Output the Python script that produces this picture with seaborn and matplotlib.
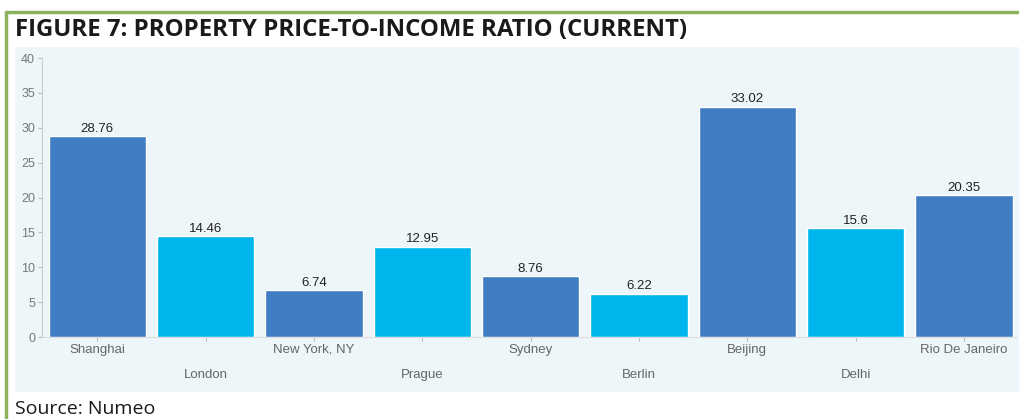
import matplotlib
matplotlib.use('Agg')
import matplotlib.pyplot as plt
import seaborn as sns
import pandas as pd
from matplotlib.patches import Rectangle
from matplotlib.lines import Line2D

# data
cities = ['Shanghai', 'London', 'New York, NY', 'Prague', 'Sydney',
          'Berlin', 'Beijing', 'Delhi', 'Rio De Janeiro']
ratios = [28.76, 14.46, 6.74, 12.95, 8.76, 6.22, 33.02, 15.6, 20.35]
value_labels = ['28.76', '14.46', '6.74', '12.95', '8.76', '6.22', '33.02', '15.6', '20.35']
y_ticks = [0, 5, 10, 15, 20, 25, 30, 35, 40]

dark_blue = '#3f7ec2'
light_blue = '#00b5ec'
bar_colors = [dark_blue if i % 2 == 0 else light_blue for i in range(len(cities))]

df = pd.DataFrame({'City': cities, 'Ratio': ratios})

sns.set_style('white')
plt.rcParams['font.family'] = ['Liberation Sans', 'DejaVu Sans']

W, H = 1019, 419
fig = plt.figure(figsize=(W / 100, H / 100), dpi=100)
fig.patch.set_facecolor('white')

# panel background and green frame
fig.patches.append(Rectangle((15 / W, 1 - 392 / H), 1 - 15 / W, (392 - 47) / H,
                             transform=fig.transFigure, facecolor='#edf6f9',
                             edgecolor='none', zorder=-5))
fig.lines.append(Line2D([6 / W, 1], [1 - 12 / H, 1 - 12 / H], transform=fig.transFigure,
                        color='#8db35f', linewidth=2.5))
fig.lines.append(Line2D([6 / W, 6 / W], [0, 1 - 12 / H], transform=fig.transFigure,
                        color='#8db35f', linewidth=2.5))

ax = fig.add_axes([42 / W, 1 - 337 / H, (1016 - 42) / W, (337 - 58) / H])
ax.set_facecolor('none')
ax.set_zorder(2)

sns.barplot(data=df, x='City', y='Ratio', hue='City', palette=bar_colors,
            legend=False, width=0.9, saturation=1, ax=ax)

for cont, lab in zip(ax.containers, value_labels):
    ax.bar_label(cont, labels=[lab], padding=1, fontsize=9.5, color='#222222')

ax.set_ylim(0, 40)
ax.set_xlim(-0.51, 8.48)
ax.set_yticks(y_ticks)
ax.set_yticklabels([str(t) for t in y_ticks], fontsize=9, color='#777777')
ax.set_xticks(range(len(cities)))
ax.set_xticklabels([c if i % 2 == 0 else '\n' + c for i, c in enumerate(cities)],
                   fontsize=9.5, color='#666666', linespacing=2.4)
ax.tick_params(axis='both', length=3, color='#bbbbbb', pad=2, left=True, bottom=True)
ax.set_xlabel('')
ax.set_ylabel('')
for side in ['top', 'right']:
    ax.spines[side].set_visible(False)
ax.spines['left'].set_color('#cccccc')
ax.spines['bottom'].set_color('#dddddd')
ax.spines['left'].set_linewidth(0.8)
ax.spines['bottom'].set_linewidth(0.8)

fig.text(15 / W, 1 - 30 / H, 'FIGURE 7: PROPERTY PRICE-TO-INCOME RATIO (CURRENT)',
         fontsize=17.3, fontweight='bold', family='Open Sans', color='#1a1a1a',
         va='center', ha='left')
fig.text(15 / W, 1 - 409 / H, 'Source: Numeo', fontsize=14, family='Open Sans',
         color='#1a1a1a', va='center', ha='left')

fig.savefig('out.png', dpi=100)
